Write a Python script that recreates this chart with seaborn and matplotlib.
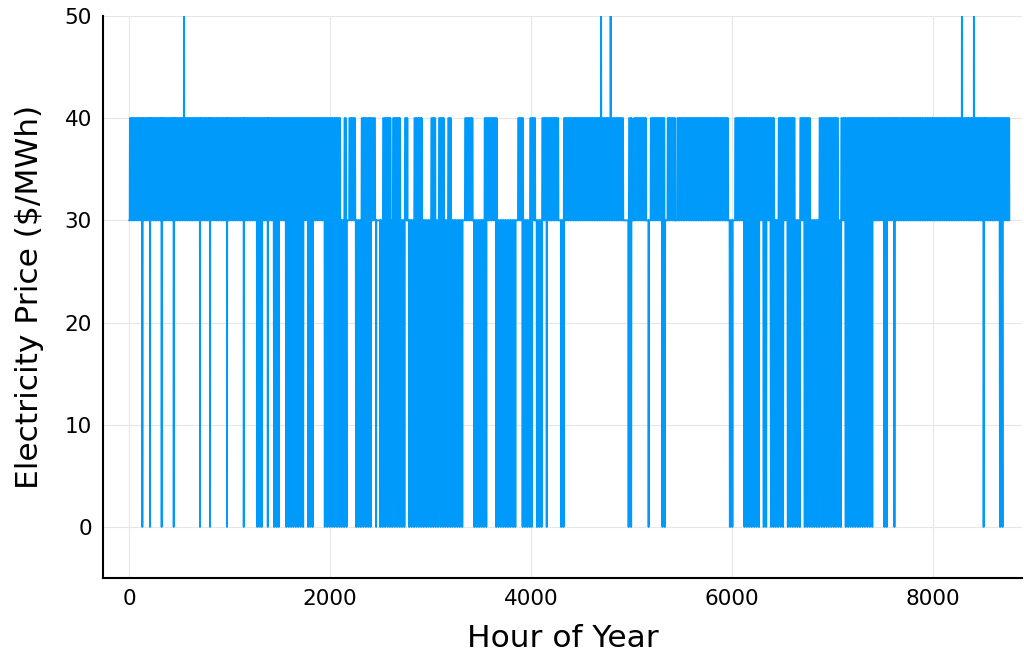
import numpy as np
import pandas as pd
import seaborn as sns
import matplotlib.pyplot as plt

# Hourly price levels ($/MWh)
n_hours = 8760
# typical daily shape inside the "high" periods: 30 overnight, 40 in daytime
day_profile = [30, 30, 30, 30, 30, 30, 30, 40, 40, 40, 40, 40,
               40, 40, 40, 40, 40, 40, 40, 40, 40, 40, 40, 30]
# overnight hours that drop to 0 inside the zero-price periods
zero_hours_of_day = [1, 2, 3, 4]

# periods (start hour, end hour) where daytime price reaches 40
band_spans = [(1, 2100), (2142, 2162), (2192, 2249), (2315, 2408), (2421, 2455),
              (2527, 2600), (2627, 2697), (2746, 2769), (2836, 2912), (3008, 3055),
              (3085, 3131), (3174, 3201), (3343, 3416), (3539, 3659), (3871, 3920),
              (3990, 4040), (4109, 4279), (4325, 4916), (4975, 5002), (5022, 5144),
              (5191, 5334), (5360, 5433), (5453, 5960), (6030, 6418), (6465, 6627),
              (6677, 6776), (6869, 7062), (7085, 8760)]

# periods where the overnight price falls to 0
zero_spans = [(1274, 1323), (1440, 1490), (1562, 1734), (1781, 1828), (1947, 2000),
              (2020, 2166), (2239, 2365), (2378, 2425), (2495, 2746), (2783, 3336),
              (3430, 3555), (3652, 3864), (3917, 4010), (4050, 4106), (4299, 4338),
              (4962, 5015), (5303, 5350), (5973, 6023), (6119, 6279), (6305, 6361),
              (6385, 6527), (6550, 6696), (6716, 7101), (7117, 7413), (7512, 7559),
              (8657, 8706)]

# isolated single-hour drops to 0
dip_hours = [132, 209, 325, 445, 706, 806, 975, 1142, 1381, 2459, 4157, 5171,
             7617, 8505]

# price spikes above the plotted range
spike_hours = [547, 4697, 4793, 8289, 8408]
spike_price = 60

# Build the hourly series
hours = np.arange(1, n_hours + 1)
hod = (hours - 1) % 24
price = np.full(n_hours, 30.0)

for s, e in band_spans:
    m = (hours >= s) & (hours <= e)
    price[m] = np.array(day_profile)[hod[m]]

for s, e in zero_spans:
    m = (hours >= s) & (hours <= e) & np.isin(hod, zero_hours_of_day)
    price[m] = 0

price[np.array(dip_hours) - 1] = 0
price[np.array(spike_hours) - 1] = spike_price

df = pd.DataFrame({'Hour': hours, 'Price': price})

# Plot
sns.set_style('white')
plt.rcParams['font.family'] = ['DejaVu Sans']

fig = plt.figure(figsize=(10.24, 6.53), dpi=100)
ax = fig.add_axes([0.1006, 0.1149, 0.8974, 0.8606])

sns.lineplot(data=df, x='Hour', y='Price', color='#009AFA', linewidth=1.4,
             estimator=None, legend=False, ax=ax)

ax.set_xlim(-259, 8886)
ax.set_ylim(-5, 50)
ax.set_xticks([0, 2000, 4000, 6000, 8000])
ax.set_yticks([0, 10, 20, 30, 40, 50])
ax.grid(True, color='#e6e6e6', linewidth=0.8)
ax.set_axisbelow(True)

for side in ['top', 'right']:
    ax.spines[side].set_visible(False)
for side in ['left', 'bottom']:
    ax.spines[side].set_color('black')
    ax.spines[side].set_linewidth(1.5)

ax.tick_params(direction='in', length=7, width=1.3, labelsize=15.5, pad=8,
               colors='black')

ax.set_xlabel('Hour of Year', fontsize=22.5, labelpad=11, color='black')
ax.set_ylabel('Electricity Price ($/MWh)', fontsize=22.5, labelpad=15,
              color='black')

fig.savefig('out.png', dpi=100)
